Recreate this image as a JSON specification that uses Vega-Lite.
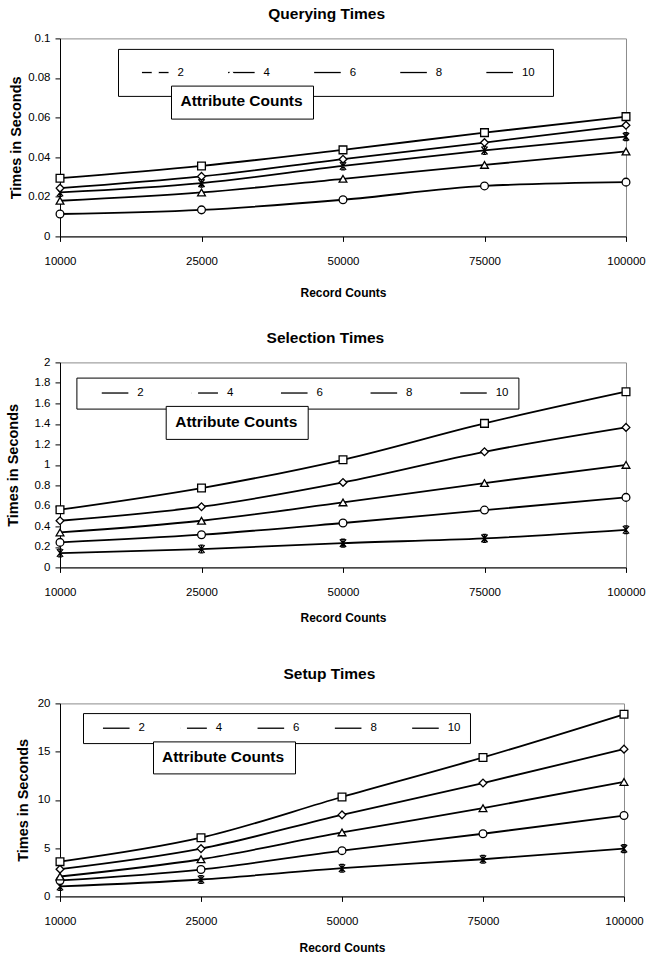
{
  "$schema": "https://vega.github.io/schema/vega-lite/v6.json",
  "background": "white",
  "padding": {"left": 5, "top": 6.4, "right": 0, "bottom": 0},
  "columns": 1,
  "align": "none",
  "spacing": 31,
  "resolve": {"scale": {"shape": "independent", "stroke": "independent", "strokeDash": "independent"}, "legend": {"shape": "independent", "stroke": "independent", "strokeDash": "independent"}},
  "config": {
    "font": "Liberation Sans, Arial, sans-serif",
    "view": {"stroke": "#8c8c8c", "strokeWidth": 1},
    "axis": {
      "domainColor": "black", "domainWidth": 1, "tickColor": "black", "tickSize": 5, "tickWidth": 1,
      "labelColor": "black", "labelFont": "Liberation Sans, Arial, sans-serif", "labelFontSize": 11.5, "labelPadding": 5,
      "titleColor": "black", "titleFont": "Liberation Sans, Arial, sans-serif", "titleFontSize": 12, "titleFontWeight": "bold", "grid": false
    },
    "axisX": {"labelPadding": 14.5},
    "axisY": {"titleFontSize": 14.5},
    "legend": {"symbolOpacity": 1},
    "title": {"font": "Liberation Sans, Arial, sans-serif", "fontSize": 15.5, "fontWeight": "bold", "color": "black", "baseline": "bottom", "anchor": "middle", "frame": "bounds"}
  },
  "datasets": {
    "d": [
      {"p": "q", "r": 10000, "c": 2, "t": 0.0113}, {"p": "q", "r": 25000, "c": 2, "t": 0.0134}, {"p": "q", "r": 50000, "c": 2, "t": 0.0185}, {"p": "q", "r": 75000, "c": 2, "t": 0.0255}, {"p": "q", "r": 100000, "c": 2, "t": 0.0274},
      {"p": "q", "r": 10000, "c": 4, "t": 0.018}, {"p": "q", "r": 25000, "c": 4, "t": 0.0222}, {"p": "q", "r": 50000, "c": 4, "t": 0.0291}, {"p": "q", "r": 75000, "c": 4, "t": 0.0361}, {"p": "q", "r": 100000, "c": 4, "t": 0.0429},
      {"p": "q", "r": 10000, "c": 6, "t": 0.0222}, {"p": "q", "r": 25000, "c": 6, "t": 0.0269}, {"p": "q", "r": 50000, "c": 6, "t": 0.0356}, {"p": "q", "r": 75000, "c": 6, "t": 0.0434}, {"p": "q", "r": 100000, "c": 6, "t": 0.0504},
      {"p": "q", "r": 10000, "c": 8, "t": 0.0244}, {"p": "q", "r": 25000, "c": 8, "t": 0.0303}, {"p": "q", "r": 50000, "c": 8, "t": 0.039}, {"p": "q", "r": 75000, "c": 8, "t": 0.0474}, {"p": "q", "r": 100000, "c": 8, "t": 0.0561},
      {"p": "q", "r": 10000, "c": 10, "t": 0.0294}, {"p": "q", "r": 25000, "c": 10, "t": 0.0356}, {"p": "q", "r": 50000, "c": 10, "t": 0.0437}, {"p": "q", "r": 75000, "c": 10, "t": 0.0524}, {"p": "q", "r": 100000, "c": 10, "t": 0.0605},
      {"p": "s", "r": 10000, "c": 2, "t": 0.14}, {"p": "s", "r": 25000, "c": 2, "t": 0.179}, {"p": "s", "r": 50000, "c": 2, "t": 0.237}, {"p": "s", "r": 75000, "c": 2, "t": 0.283}, {"p": "s", "r": 100000, "c": 2, "t": 0.367},
      {"p": "s", "r": 10000, "c": 4, "t": 0.244}, {"p": "s", "r": 25000, "c": 4, "t": 0.319}, {"p": "s", "r": 50000, "c": 4, "t": 0.433}, {"p": "s", "r": 75000, "c": 4, "t": 0.559}, {"p": "s", "r": 100000, "c": 4, "t": 0.683},
      {"p": "s", "r": 10000, "c": 6, "t": 0.341}, {"p": "s", "r": 25000, "c": 6, "t": 0.455}, {"p": "s", "r": 50000, "c": 6, "t": 0.634}, {"p": "s", "r": 75000, "c": 6, "t": 0.823}, {"p": "s", "r": 100000, "c": 6, "t": 1.0},
      {"p": "s", "r": 10000, "c": 8, "t": 0.455}, {"p": "s", "r": 25000, "c": 8, "t": 0.592}, {"p": "s", "r": 50000, "c": 8, "t": 0.829}, {"p": "s", "r": 75000, "c": 8, "t": 1.128}, {"p": "s", "r": 100000, "c": 8, "t": 1.366},
      {"p": "s", "r": 10000, "c": 10, "t": 0.563}, {"p": "s", "r": 25000, "c": 10, "t": 0.774}, {"p": "s", "r": 50000, "c": 10, "t": 1.05}, {"p": "s", "r": 75000, "c": 10, "t": 1.405}, {"p": "s", "r": 100000, "c": 10, "t": 1.714},
      {"p": "u", "r": 10000, "c": 2, "t": 1.03}, {"p": "u", "r": 25000, "c": 2, "t": 1.75}, {"p": "u", "r": 50000, "c": 2, "t": 2.92}, {"p": "u", "r": 75000, "c": 2, "t": 3.85}, {"p": "u", "r": 100000, "c": 2, "t": 4.95},
      {"p": "u", "r": 10000, "c": 4, "t": 1.65}, {"p": "u", "r": 25000, "c": 4, "t": 2.78}, {"p": "u", "r": 50000, "c": 4, "t": 4.74}, {"p": "u", "r": 75000, "c": 4, "t": 6.49}, {"p": "u", "r": 100000, "c": 4, "t": 8.38},
      {"p": "u", "r": 10000, "c": 6, "t": 2.06}, {"p": "u", "r": 25000, "c": 6, "t": 3.85}, {"p": "u", "r": 50000, "c": 6, "t": 6.63}, {"p": "u", "r": 75000, "c": 6, "t": 9.14}, {"p": "u", "r": 100000, "c": 6, "t": 11.86},
      {"p": "u", "r": 10000, "c": 8, "t": 2.82}, {"p": "u", "r": 25000, "c": 8, "t": 4.95}, {"p": "u", "r": 50000, "c": 8, "t": 8.45}, {"p": "u", "r": 75000, "c": 8, "t": 11.75}, {"p": "u", "r": 100000, "c": 8, "t": 15.26},
      {"p": "u", "r": 10000, "c": 10, "t": 3.6}, {"p": "u", "r": 25000, "c": 10, "t": 6.08}, {"p": "u", "r": 50000, "c": 10, "t": 10.3}, {"p": "u", "r": 75000, "c": 10, "t": 14.4}, {"p": "u", "r": 100000, "c": 10, "t": 18.87}
    ]
  },
  "concat": [
    {
      "title": {"text": "Querying Times", "offset": 10},
      "width": 566, "height": 198,
      "layer": [
        {
          "data": {"name": "d"}, "transform": [{"filter": "datum.p == 'q'"}],
          "mark": {"type": "line", "strokeWidth": 1.8, "interpolate": "monotone"},
          "encoding": {
            "x": {"field": "r", "type": "ordinal", "scale": {"type": "point", "padding": 0}, "axis": {"title": "Record Counts", "labelAngle": 0, "labelOverlap": false, "titlePadding": 19.9}},
            "y": {"field": "t", "type": "quantitative", "scale": {"domain": [0, 0.1], "nice": false}, "axis": {"title": "Times in Seconds", "values": [0, 0.02, 0.04, 0.06, 0.08, 0.1], "tickCount": 50, "format": "~g", "labelOverlap": false, "titlePadding": 4.5}},
            "stroke": {"field": "c", "type": "nominal",
              "scale": {"domain": [2, 4, 6, 8, 10, 12], "range": ["black", "black", "black", "black", "black", "black"]},
              "legend": {
                "values": [2, 4, 6, 8, 10],
                "title": " ", "titleOrient": "left", "titleFontSize": 1, "titlePadding": 14,
                "orient": "none", "legendX": 58, "legendY": 10.5, "direction": "horizontal", "columns": 5, "gridAlign": "each",
                "columnPadding": 40.1, "rowPadding": 0, "padding": 17.5, "strokeColor": "black", "fillColor": "white",
                "symbolType": "M-3.8,0H3.8", "symbolSize": 49, "symbolStrokeWidth": 1.3, "symbolStrokeColor": "black",
                "labelOffset": 16.5, "labelFont": "Liberation Sans, Arial, sans-serif", "labelFontSize": 11.5, "labelColor": "black"
              }
            }
          }
        },
        {
          "data": {"name": "d"}, "transform": [{"filter": "datum.p === 'q'"}],
          "mark": {"type": "point", "filled": true, "fill": "white", "stroke": "black", "strokeWidth": 1.3, "size": 60, "opacity": 1},
          "encoding": {
            "x": {"field": "r", "type": "ordinal"},
            "y": {"field": "t", "type": "quantitative"},
            "shape": {"field": "c", "type": "nominal",
              "scale": {"domain": [2, 4, 6, 8, 10], "range": ["circle", "triangle-up", "M-0.8,-1L0.8,1M0.8,-1L-0.8,1M0,-1V1M-0.5,-1H0.5M-0.5,1H0.5", "diamond", "square"]},
              "legend": {
                "title": "\u00a0", "titleOrient": "left", "titleFontSize": 1, "titlePadding": 14,
                "orient": "none", "legendX": 58, "legendY": 10.5, "direction": "horizontal", "columns": 5, "gridAlign": "each",
                "columnPadding": 40.1, "rowPadding": 0, "padding": 17.5,
                "symbolSize": 49, "symbolStrokeWidth": 1.3, "symbolFillColor": "white", "symbolStrokeColor": "black", "symbolOpacity": 1,
                "labelOffset": 16.5, "labelFont": "Liberation Sans, Arial, sans-serif", "labelFontSize": 11.5, "labelColor": "black", "labelOpacity": 0,
                "encode": {"symbols": {"stroke": {"value": "black"}, "fill": {"value": "white"}, "strokeWidth": {"value": 1.3}, "opacity": {"value": 1}}}
              }
            }
          }
        },
        {
          "data": {"values": [{"a": "Attribute Counts"}]},
          "mark": {"type": "point", "opacity": 0},
          "encoding": {
            "strokeDash": {"field": "a", "type": "nominal", "legend": {
              "title": null, "orient": "none", "legendX": 111, "legendY": 47.2, "padding": 8, "strokeColor": "black", "fillColor": "white",
              "symbolType": "M-2,0M118,0", "symbolSize": 4, "symbolStrokeWidth": 0, "symbolFillColor": "transparent",
              "labelOffset": -14, "labelFont": "Liberation Sans, Arial, sans-serif", "labelFontSize": 15.5, "labelFontWeight": "bold", "labelColor": "black", "labelLimit": 400
            }}
          }
        }
      ]
    },
    {
      "title": {"text": "Selection Times", "offset": 9.8},
      "width": 566, "height": 205,
      "layer": [
        {
          "data": {"name": "d"}, "transform": [{"filter": "datum.p == 's'"}],
          "mark": {"type": "line", "strokeWidth": 1.8, "interpolate": "monotone"},
          "encoding": {
            "x": {"field": "r", "type": "ordinal", "scale": {"type": "point", "padding": 0}, "axis": {"title": ["Record Counts", ""], "titleLineHeight": 10, "labelAngle": 0, "labelOverlap": false, "titlePadding": 13.9}},
            "y": {"field": "t", "type": "quantitative", "scale": {"domain": [0, 2], "nice": false}, "axis": {"title": "Times in Seconds", "values": [0, 0.2, 0.4, 0.6, 0.8, 1, 1.2, 1.4, 1.6, 1.8, 2], "tickCount": 50, "format": "~g", "labelOverlap": false, "titlePadding": 13.4}},
            "stroke": {"field": "c", "type": "nominal",
              "scale": {"domain": [2, 4, 6, 8, 10, 12], "range": ["black", "black", "black", "black", "black", "black"]},
              "legend": {
                "values": [2, 4, 6, 8, 10],
                "title": " ", "titleOrient": "left", "titleFontSize": 1, "titlePadding": 23.6,
                "orient": "none", "legendX": 16.4, "legendY": 15.2, "direction": "horizontal", "columns": 5, "gridAlign": "each",
                "columnPadding": 43.6, "rowPadding": 0, "padding": 9.3, "strokeColor": "black", "fillColor": "white",
                "symbolType": "M-3.8,0H3.8", "symbolSize": 49, "symbolStrokeWidth": 1.3, "symbolStrokeColor": "black",
                "labelOffset": 16.5, "labelFont": "Liberation Sans, Arial, sans-serif", "labelFontSize": 11.5, "labelColor": "black"
              }
            }
          }
        },
        {
          "data": {"name": "d"}, "transform": [{"filter": "datum.p === 's'"}],
          "mark": {"type": "point", "filled": true, "fill": "white", "stroke": "black", "strokeWidth": 1.3, "size": 60, "opacity": 1},
          "encoding": {
            "x": {"field": "r", "type": "ordinal"},
            "y": {"field": "t", "type": "quantitative"},
            "shape": {"field": "c", "type": "nominal",
              "scale": {"domain": [2, 4, 6, 8, 10], "range": ["M-0.8,-1L0.8,1M0.8,-1L-0.8,1M0,-1V1M-0.5,-1H0.5M-0.5,1H0.5", "circle", "triangle-up", "diamond", "square"]},
              "legend": {
                "title": "\u00a0", "titleOrient": "left", "titleFontSize": 1, "titlePadding": 23.6,
                "orient": "none", "legendX": 16.4, "legendY": 15.2, "direction": "horizontal", "columns": 5, "gridAlign": "each",
                "columnPadding": 43.6, "rowPadding": 0, "padding": 9.3,
                "symbolSize": 49, "symbolStrokeWidth": 1.3, "symbolFillColor": "white", "symbolStrokeColor": "black", "symbolOpacity": 1,
                "labelOffset": 16.5, "labelFont": "Liberation Sans, Arial, sans-serif", "labelFontSize": 11.5, "labelColor": "black", "labelOpacity": 0,
                "encode": {"symbols": {"stroke": {"value": "black"}, "fill": {"value": "white"}, "strokeWidth": {"value": 1.3}, "opacity": {"value": 1}}}
              }
            }
          }
        },
        {
          "data": {"values": [{"a": "Attribute Counts"}]},
          "mark": {"type": "point", "opacity": 0},
          "encoding": {
            "strokeDash": {"field": "a", "type": "nominal", "legend": {
              "title": null, "orient": "none", "legendX": 105.7, "legendY": 43.5, "padding": 8, "strokeColor": "black", "fillColor": "white",
              "symbolType": "M-2,0M118,0", "symbolSize": 4, "symbolStrokeWidth": 0, "symbolFillColor": "transparent",
              "labelOffset": -14, "labelFont": "Liberation Sans, Arial, sans-serif", "labelFontSize": 15.5, "labelFontWeight": "bold", "labelColor": "black", "labelLimit": 400
            }}
          }
        }
      ]
    },
    {
      "title": {"text": "Setup Times", "offset": 15.1},
      "width": 564, "height": 193,
      "layer": [
        {
          "data": {"name": "d"}, "transform": [{"filter": "datum.p == 'u'"}],
          "mark": {"type": "line", "strokeWidth": 1.8, "interpolate": "monotone"},
          "encoding": {
            "x": {"field": "r", "type": "ordinal", "scale": {"type": "point", "padding": 0}, "axis": {"title": "Record Counts", "labelAngle": 0, "labelOverlap": false, "titlePadding": 14.9}},
            "y": {"field": "t", "type": "quantitative", "scale": {"domain": [0, 20], "nice": false}, "axis": {"title": "Times in Seconds", "values": [0, 5, 10, 15, 20], "tickCount": 50, "format": "~g", "labelOverlap": false, "titlePadding": 6.7}},
            "stroke": {"field": "c", "type": "nominal",
              "scale": {"domain": [2, 4, 6, 8, 10, 12], "range": ["black", "black", "black", "black", "black", "black"]},
              "legend": {
                "values": [2, 4, 6, 8, 10],
                "title": " ", "titleOrient": "left", "titleFontSize": 1, "titlePadding": 18.5,
                "orient": "none", "legendX": 23, "legendY": 9.7, "direction": "horizontal", "columns": 5, "gridAlign": "each",
                "columnPadding": 31.3, "rowPadding": 0, "padding": 9, "strokeColor": "black", "fillColor": "white",
                "symbolType": "M-3.8,0H3.8", "symbolSize": 49, "symbolStrokeWidth": 1.3, "symbolStrokeColor": "black",
                "labelOffset": 16.5, "labelFont": "Liberation Sans, Arial, sans-serif", "labelFontSize": 11.5, "labelColor": "black"
              }
            }
          }
        },
        {
          "data": {"name": "d"}, "transform": [{"filter": "datum.p === 'u'"}],
          "mark": {"type": "point", "filled": true, "fill": "white", "stroke": "black", "strokeWidth": 1.3, "size": 60, "opacity": 1},
          "encoding": {
            "x": {"field": "r", "type": "ordinal"},
            "y": {"field": "t", "type": "quantitative"},
            "shape": {"field": "c", "type": "nominal",
              "scale": {"domain": [2, 4, 6, 8, 10], "range": ["M-0.8,-1L0.8,1M0.8,-1L-0.8,1M0,-1V1M-0.5,-1H0.5M-0.5,1H0.5", "circle", "triangle-up", "diamond", "square"]},
              "legend": {
                "title": "\u00a0", "titleOrient": "left", "titleFontSize": 1, "titlePadding": 18.5,
                "orient": "none", "legendX": 23, "legendY": 9.7, "direction": "horizontal", "columns": 5, "gridAlign": "each",
                "columnPadding": 31.3, "rowPadding": 0, "padding": 9,
                "symbolSize": 49, "symbolStrokeWidth": 1.3, "symbolFillColor": "white", "symbolStrokeColor": "black", "symbolOpacity": 1,
                "labelOffset": 16.5, "labelFont": "Liberation Sans, Arial, sans-serif", "labelFontSize": 11.5, "labelColor": "black", "labelOpacity": 0,
                "encode": {"symbols": {"stroke": {"value": "black"}, "fill": {"value": "white"}, "strokeWidth": {"value": 1.3}, "opacity": {"value": 1}}}
              }
            }
          }
        },
        {
          "data": {"values": [{"a": "Attribute Counts"}]},
          "mark": {"type": "point", "opacity": 0},
          "encoding": {
            "strokeDash": {"field": "a", "type": "nominal", "legend": {
              "title": null, "orient": "none", "legendX": 93, "legendY": 38, "padding": 7.5, "strokeColor": "black", "fillColor": "white",
              "symbolType": "M-2.5,0M119,0", "symbolSize": 4, "symbolStrokeWidth": 0, "symbolFillColor": "transparent",
              "labelOffset": -14, "labelFont": "Liberation Sans, Arial, sans-serif", "labelFontSize": 15.5, "labelFontWeight": "bold", "labelColor": "black", "labelLimit": 400
            }}
          }
        }
      ]
    }
  ]
}
